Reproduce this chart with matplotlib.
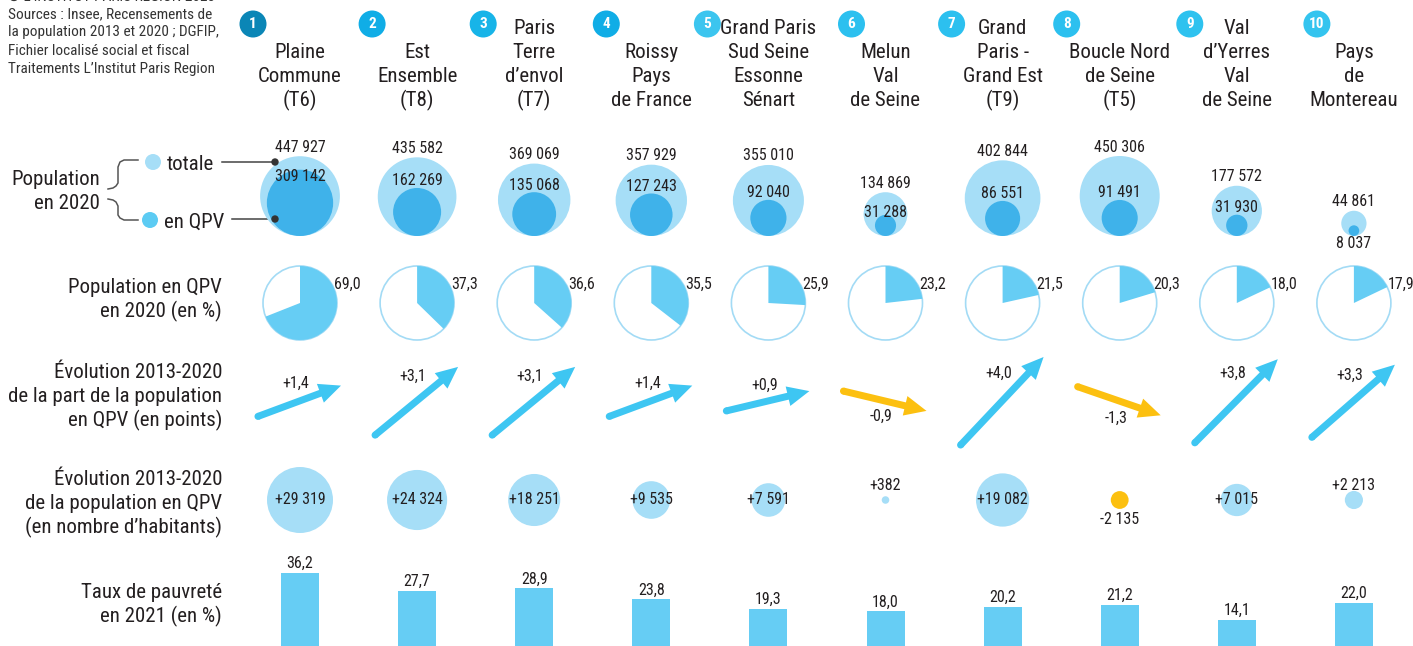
import numpy as np
import matplotlib
matplotlib.use("Agg")
import matplotlib.pyplot as plt
from matplotlib.patches import Circle, Wedge, FancyArrow

# =====================================================
# DATA
# =====================================================

titles = [
    ["Plaine", "Commune", "(T6)"],
    ["Est", "Ensemble", "(T8)"],
    ["Paris", "Terre", "d\u2019envol", "(T7)"],
    ["Roissy", "Pays", "de France"],
    ["Grand Paris", "Sud Seine", "Essonne", "S\u00e9nart"],
    ["Melun", "Val", "de Seine"],
    ["Grand", "Paris -", "Grand Est", "(T9)"],
    ["Boucle Nord", "de Seine", "(T5)"],
    ["Val", "d\u2019Yerres", "Val", "de Seine"],
    ["Pays", "de", "Montereau"],
]

pop_total = [447927, 435582, 369069, 357929, 355010, 134869, 402844, 450306, 177572, 44861]
pop_qpv = [309142, 162269, 135068, 127243, 92040, 31288, 86551, 91491, 31930, 8037]
share_qpv = [69.0, 37.3, 36.6, 35.5, 25.9, 23.2, 21.5, 20.3, 18.0, 17.9]
evol_share = [1.4, 3.1, 3.1, 1.4, 0.9, -0.9, 4.0, -1.3, 3.8, 3.3]
evol_pop = [29319, 24324, 18251, 9535, 7591, 382, 19082, -2135, 7015, 2213]
poverty = [36.2, 27.7, 28.9, 23.8, 19.3, 18.0, 20.2, 21.2, 14.1, 22.0]

row_labels = [
    ["Population en QPV", "en 2020 (en %)"],
    ["\u00c9volution 2013-2020", "de la part de la population", "en QPV (en points)"],
    ["\u00c9volution 2013-2020", "de la population en QPV", "(en nombre d\u2019habitants)"],
    ["Taux de pauvret\u00e9", "en 2021 (en %)"],
]
row_baselines = [293, 378, 485, 598]

source_lines = [
    "Sources : Insee, Recensements de",
    "la population 2013 et 2020 ; DGFIP,",
    "Fichier localis\u00e9 social et fiscal",
    "Traitements L\u2019Institut Paris Region",
]

# =====================================================
# STYLE
# =====================================================

plt.rcParams["font.family"] = ["Roboto Condensed", "Archivo Narrow", "DejaVu Sans"]

TXT = "#231f20"
LIGHT = "#a6def7"
MID = "#3fb2ea"
PIE = "#66cdf4"
ARROW = "#3ec6f2"
YELLOW = "#fcc010"
badge_colors = ["#0b86b6", "#10ade6", "#17b4e8", "#10ade6", "#3cc5ef",
                "#2cc0ef", "#2cc0ef", "#2cc0ef", "#2ec2ef", "#34c4ef"]
badge_dx = [-47, -45, -51, -45, -61, -34, -51, -53, -47, -37]

LBL = 15      # titles / row labels
NUM = 11.5    # value labels

W, H = 1413, 646
fig = plt.figure(figsize=(W / 100, H / 100), dpi=100)
ax = fig.add_axes([0, 0, 1, 1])
ax.set_xlim(0, W)
ax.set_ylim(H, 0)
ax.axis("off")

col_x = [300 + 117.1 * i for i in range(len(titles))]


def fr_int(v, sign=False):
    s = f"{v:+,}" if sign else f"{v:,}"
    return s.replace(",", " ")


def fr_dec(v, sign=False):
    s = f"{v:+.1f}" if sign else f"{v:.1f}"
    return s.replace(".", ",")


# =====================================================
# SOURCE + HEADERS
# =====================================================

ax.text(8, 1, "\u00a9 L\u2019INSTITUT PARIS REGION 2023", fontsize=11,
        color="#333333", va="baseline")
for i, line in enumerate(source_lines):
    ax.text(8, 18 + 18.3 * i, line, fontsize=11, color="#333333", va="baseline")

for i, (cx, lines) in enumerate(zip(col_x, titles)):
    n = len(lines)
    for j, line in enumerate(lines):
        ax.text(cx, 106 - 24 * (n - 1 - j), line, fontsize=LBL, color=TXT,
                ha="center", va="baseline")
    bx = cx + badge_dx[i]
    ax.add_patch(Circle((bx, 24), 13.5, color=badge_colors[i], lw=0))
    ax.text(bx, 24.5, str(i + 1), fontsize=11, color="white", weight="bold",
            ha="center", va="center")

# row labels
for lines, b in zip(row_labels, row_baselines):
    for j, line in enumerate(lines):
        ax.text(222, b + 24 * j, line, fontsize=LBL, color=TXT,
                ha="right", va="baseline")

ax.text(100, 185, "Population", fontsize=LBL, color=TXT, ha="right", va="baseline")
ax.text(100, 209, "en 2020", fontsize=LBL, color=TXT, ha="right", va="baseline")

# legend brace
ax.plot([138, 124, 120, 118, 118, 116, 113, 108],
        [160, 160, 162, 167, 183, 186, 188, 189], color="#555555", lw=1.1)
ax.plot([108, 113, 116, 118, 118, 120, 124, 138],
        [199, 200, 202, 206, 215, 218, 220, 220], color="#555555", lw=1.1)
ax.add_patch(Circle((153, 162), 8, color=LIGHT, lw=0))
ax.add_patch(Circle((150, 220), 8, color="#5ccbf3", lw=0))
ax.text(167, 170, "totale", fontsize=LBL, color=TXT, va="baseline")
ax.text(164, 228, "en QPV", fontsize=LBL, color=TXT, va="baseline")
ax.plot([222, 275], [162, 162], color="#444444", lw=1.1)
ax.plot([232, 275], [219, 219], color="#444444", lw=1.1)

# =====================================================
# ROW 1 : POPULATION BUBBLES
# =====================================================

BASE1 = 236
k = 40 / np.sqrt(max(pop_total))
for cx, tot, qpv in zip(col_x, pop_total, pop_qpv):
    R = k * np.sqrt(tot)
    r = k * np.sqrt(qpv)
    ax.add_patch(Circle((cx, BASE1 - R), R, color=LIGHT, lw=0, zorder=2))
    ax.add_patch(Circle((cx, BASE1 - r), r, color=MID, lw=0, zorder=3))
    ax.text(cx, BASE1 - 2 * R - 9, fr_int(tot), fontsize=NUM, color=TXT,
            ha="center", va="center", zorder=5)
    if 2 * r < 15:
        ly = BASE1 + 7
    else:
        ly = max(BASE1 - 2 * r - 7, BASE1 - 2 * R + 20)
    ax.text(cx, ly, fr_int(qpv), fontsize=NUM, color=TXT, ha="center",
            va="center", zorder=5)

# legend pointer dots on first column
ax.add_patch(Circle((275, 162), 3, color="#333333", zorder=6))
ax.add_patch(Circle((275, 219), 3, color="#333333", zorder=6))

# =====================================================
# ROW 2 : SHARE PIES
# =====================================================

CY2, R2 = 303, 37
for cx, s in zip(col_x, share_qpv):
    ax.add_patch(Circle((cx, CY2), R2, facecolor="white", edgecolor="#a3dbf5",
                        lw=1.2, zorder=2))
    ax.add_patch(Wedge((cx, CY2), R2, -90, -90 + 3.6 * s, color=PIE, lw=0,
                       zorder=3))
    a = np.radians(60)
    ax.text(cx + R2 * np.sin(a) + 2, CY2 - R2 * np.cos(a), fr_dec(s),
            fontsize=NUM, color=TXT, va="center", zorder=5)

# =====================================================
# ROW 3 : ARROWS
# =====================================================

CY3 = 401
PX_PER_POINT = 22
for cx, v in zip(col_x, evol_share):
    col = ARROW if v >= 0 else YELLOW
    dy = -PX_PER_POINT * v
    x0, y0 = cx - 42, CY3 - dy / 2
    ax.add_patch(FancyArrow(x0, y0, 83, dy, width=7, head_width=20,
                            head_length=22, length_includes_head=True,
                            color=col, lw=0, zorder=3))
    ax.add_patch(Circle((x0, y0), 3.5, color=col, lw=0, zorder=3))
    off = 12 + 4 * abs(v)
    ly = CY3 - off if v >= 0 else CY3 + off
    ax.text(cx - 4, ly, fr_dec(v, sign=True), fontsize=NUM, color=TXT,
            ha="center", va="center", zorder=5)

# =====================================================
# ROW 4 : EVOLUTION BUBBLES
# =====================================================

CY4 = 500
k4 = 33 / np.sqrt(max(abs(v) for v in evol_pop))
for cx, v in zip(col_x, evol_pop):
    r = k4 * np.sqrt(abs(v))
    ax.add_patch(Circle((cx, CY4), r, color=LIGHT if v >= 0 else YELLOW,
                        lw=0, zorder=2))
    if 2 * r >= 20:
        ly = CY4
    elif v >= 0:
        ly = CY4 - 14
    else:
        ly = CY4 + 19
    ax.text(cx, ly, fr_int(v, sign=True), fontsize=NUM, color=TXT,
            ha="center", va="center", zorder=5)

# =====================================================
# ROW 5 : POVERTY BARS
# =====================================================

bar_ax = fig.add_axes([0, -4 / H, 1, 110 / H])
bar_ax.set_xlim(0, W)
bar_ax.set_ylim(0, 110 / 2.14)
bar_ax.axis("off")
bar_ax.bar(col_x, poverty, width=38, color=PIE, lw=0)
for cx, v in zip(col_x, poverty):
    bar_ax.text(cx, v + 4.3, fr_dec(v), fontsize=NUM, color=TXT,
                ha="center", va="center")

fig.savefig("out.png", dpi=100)
